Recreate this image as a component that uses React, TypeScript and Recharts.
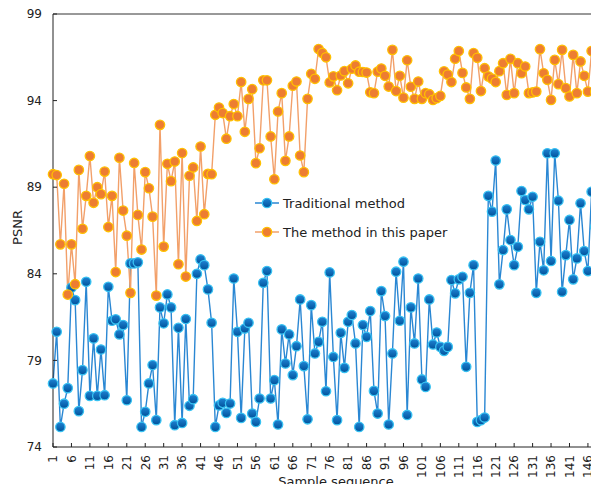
import React from 'react';
import { LineChart, Line, XAxis, YAxis, Legend, ReferenceLine } from 'recharts';

const traditional = [
  77.67, 80.65, 75.16, 76.5, 77.4, 83.2, 82.48, 76.07, 78.44, 83.54,
  76.95, 80.27, 76.95, 79.63, 76.99, 83.25, 81.29, 81.37, 80.5, 81.04,
  76.7, 84.6, 84.6, 84.66, 75.16, 76.03, 77.67, 78.73, 75.55, 82.06,
  81.14, 82.81, 82.06, 75.26, 80.88, 75.39, 81.39, 76.38, 76.76, 84.0,
  84.83, 84.5, 83.1, 81.17, 75.16, 76.4, 76.55, 75.97, 76.51, 83.73,
  80.65, 75.68, 80.84, 81.17, 75.93, 75.45, 76.8, 83.48, 84.16, 76.8,
  77.86, 75.3, 80.79, 78.82, 80.5, 78.15, 79.82, 82.52, 78.67, 75.6,
  82.19, 79.4, 80.07, 81.23, 77.22, 84.08, 79.2, 75.55, 80.59, 78.57,
  81.23, 81.62, 79.98, 75.16, 81.04, 80.36, 81.85, 77.24, 75.93, 83.0,
  81.56, 75.3, 79.4, 84.12, 81.29, 84.7, 75.85, 82.06, 79.98, 83.73,
  77.9, 77.47, 82.52, 79.92, 80.61, 79.78, 79.55, 79.78, 83.64, 82.87,
  83.68, 83.83, 78.63, 82.9, 84.5, 75.45, 75.55, 75.7, 88.5, 87.59,
  90.54, 83.39, 85.37, 87.72, 85.95, 84.5, 85.56, 88.78, 88.26, 87.72,
  88.45, 82.9, 85.85, 84.2, 90.96, 84.74, 90.96, 88.22, 82.96, 85.08,
  87.11, 83.68, 84.89, 88.07, 85.31, 84.16, 88.74, 86.7, 88.2,
];

const proposed = [
  89.75, 89.7, 85.7, 89.2, 82.8, 85.7, 83.4, 90.0, 86.6, 88.5,
  90.8, 88.1, 89.0, 88.6, 89.9, 86.7, 88.5, 84.1, 90.7, 87.65,
  86.2, 82.9, 90.4, 87.4, 85.4, 89.87, 88.94, 87.3, 82.74, 92.6,
  85.57, 90.35, 89.35, 90.48, 84.55, 90.97, 83.84, 89.66, 90.14, 87.05,
  91.35, 87.44, 89.77, 89.75, 93.18, 93.6, 93.28, 91.8, 93.1, 93.8,
  93.1, 95.07, 92.2, 94.1, 94.66, 90.39, 91.25, 95.17, 95.17, 91.93,
  89.46, 93.37, 94.43, 90.52, 91.93, 94.86, 95.1, 90.83, 89.87, 94.1,
  95.55, 95.26, 96.98, 96.75, 96.5, 95.05, 95.4, 94.6, 95.45, 95.7,
  95.0, 95.84, 96.03, 95.67, 95.65, 95.62, 94.48, 94.43, 95.67, 95.85,
  95.43, 94.81, 96.93, 94.55, 95.43, 94.17, 96.33, 94.8, 94.1, 95.1,
  94.1, 94.43, 94.37, 94.04, 94.14, 94.27, 95.69, 95.5, 95.07, 96.42,
  96.86, 95.6, 94.76, 94.1, 96.74, 96.47, 94.55, 95.87, 95.4, 95.27,
  95.07, 95.7, 96.16, 94.33, 96.41, 94.43, 96.16, 95.58, 95.97, 94.43,
  94.47, 94.52, 96.97, 95.58, 95.2, 94.04, 96.35, 94.95, 96.93, 94.72,
  94.24, 96.64, 94.43, 96.26, 95.43, 94.52, 96.86, 94.52, 96.64,
];

const samples = traditional.map((_, i) => i + 1);
const xTicks = [1, 6, 11, 16, 21, 26, 31, 36, 41, 46, 51, 56, 61, 66, 71, 76, 81, 86, 91, 96, 101, 106, 111, 116, 121, 126, 131, 136, 141, 146];
const yTicks = [74, 79, 84, 89, 94, 99];
const seriesNames = ['Traditional method', 'The method in this paper'];

const data = samples.map((s, i) => ({ sample: s, traditional: traditional[i], proposed: proposed[i] }));

const FONT = '"DejaVu Sans", Verdana, sans-serif';
const BLUE_LINE = '#2a87d3';
const BLUE_STROKE = '#38c2f2';
const ORANGE_LINE = '#f2a06a';
const ORANGE_FILL = '#ed7d31';
const ORANGE_STROKE = '#ffc000';
const DOT_R = 4.7;

const XTick = (props: any) => {
  const { x, y, payload } = props;
  return (
    <text
      x={x}
      y={y}
      transform={`rotate(-90 ${x} ${y})`}
      textAnchor="end"
      dy="0.36em"
      fontSize={12}
      fill="#222"
      fontFamily={FONT}
    >
      {payload.value}
    </text>
  );
};

const legendStyles = [
  { line: BLUE_LINE, stroke: BLUE_STROKE },
  { line: ORANGE_LINE, stroke: ORANGE_STROKE },
];

const LegendContent = () => (
  <svg width={230} height={60} style={{ display: 'block' }}>
    <defs>
      <linearGradient id="blueDotLegend" x1="0" y1="0" x2="0" y2="1">
        <stop offset="0%" stopColor="#1f84d4" />
        <stop offset="100%" stopColor="#00519a" />
      </linearGradient>
    </defs>
    {seriesNames.map((name, k) => (
      <g key={name} transform={`translate(0, ${k * 29})`}>
        <line x1={1} x2={25} y1={10} y2={10} stroke={legendStyles[k].line} strokeWidth={1.5} />
        <circle
          cx={13}
          cy={10}
          r={DOT_R}
          fill={k === 0 ? 'url(#blueDotLegend)' : ORANGE_FILL}
          stroke={legendStyles[k].stroke}
          strokeWidth={1.3}
        />
        <text x={29} y={10} dy="0.36em" fontSize={13} fill="#222" fontFamily={FONT}>
          {name}
        </text>
      </g>
    ))}
  </svg>
);

export default function App() {
  return (
    <div style={{ margin: -8, width: 599, height: 492, overflow: 'hidden', position: 'relative', background: '#fff' }}>
      <LineChart
        width={610}
        height={492}
        data={data}
        margin={{ top: 14, right: 11, bottom: 0, left: 0 }}
      >
        <defs>
          <linearGradient id="blueDot" x1="0" y1="0" x2="0" y2="1">
            <stop offset="0%" stopColor="#1f84d4" />
            <stop offset="100%" stopColor="#00519a" />
          </linearGradient>
        </defs>
        <XAxis
          dataKey="sample"
          type="number"
          domain={[1, samples.length]}
          ticks={xTicks}
          interval={0}
          height={45}
          tickSize={-4}
          tickMargin={12}
          tick={<XTick />}
          stroke="#222"
          axisLine={{ stroke: '#222' }}
          tickLine={{ stroke: '#222' }}
          label={(p: any) => {
            const vb = p.viewBox || { x: 53, y: 447, width: 546 };
            return (
              <text
                x={vb.x + vb.width / 2 + 10}
                y={vb.y + 38.5}
                textAnchor="middle"
                fontSize={13}
                fill="#222"
                fontFamily={FONT}
              >
                Sample sequence
              </text>
            );
          }}
        />
        <YAxis
          domain={[74, 99]}
          ticks={yTicks}
          interval={0}
          width={53}
          tickSize={-4}
          tickMargin={15}
          tick={{ fontSize: 12, fill: '#222', fontFamily: FONT }}
          axisLine={{ stroke: '#222' }}
          tickLine={{ stroke: '#222' }}
          label={(p: any) => {
            const vb = p.viewBox || { x: 0, y: 14, width: 53, height: 433 };
            const cx = vb.x + 17;
            const cy = vb.y + vb.height / 2 - 3;
            return (
              <text
                x={cx}
                y={cy}
                transform={`rotate(-90 ${cx} ${cy})`}
                textAnchor="middle"
                dy="0.36em"
                fontSize={13}
                fill="#222"
                fontFamily={FONT}
              >
                PSNR
              </text>
            );
          }}
        />
        <ReferenceLine y={99} stroke="#333" strokeWidth={1} ifOverflow="visible" />
        <Legend
          layout="horizontal"
          verticalAlign="middle"
          align="center"
          content={<LegendContent />}
          wrapperStyle={{ left: 254, top: 193, width: 230, height: 60 }}
        />
        <Line
          type="linear"
          dataKey="traditional"
          name={seriesNames[0]}
          stroke={BLUE_LINE}
          strokeWidth={1.4}
          dot={{ r: DOT_R, fill: 'url(#blueDot)', stroke: BLUE_STROKE, strokeWidth: 1.3 }}
          activeDot={false}
          isAnimationActive={false}
        />
        <Line
          type="linear"
          dataKey="proposed"
          name={seriesNames[1]}
          stroke={ORANGE_LINE}
          strokeWidth={1.4}
          dot={{ r: DOT_R, fill: ORANGE_FILL, stroke: ORANGE_STROKE, strokeWidth: 1.3 }}
          activeDot={false}
          isAnimationActive={false}
        />
      </LineChart>
    </div>
  );
}
